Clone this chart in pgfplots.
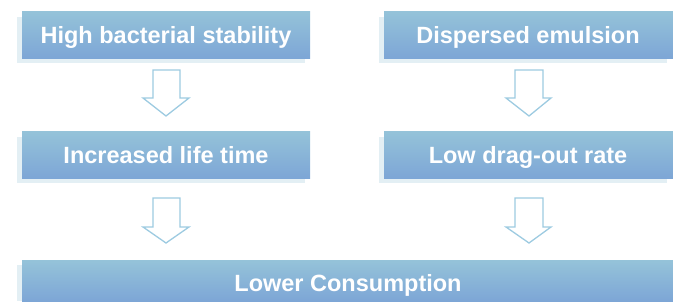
\documentclass[border=0pt]{standalone}
\usepackage{fontspec}
\setmainfont{Liberation Sans}
\usepackage{pgfplots}
\pgfplotsset{compat=1.18}
\definecolor{boxtop}{HTML}{95C3D9}
\definecolor{boxbot}{HTML}{7DA6D6}
\definecolor{shadowc}{HTML}{E3EFF4}
\definecolor{arrowc}{HTML}{9DCBE1}
\begin{document}
\begin{tikzpicture}
\begin{axis}[
  width=673pt, height=301pt, scale only axis,
  xmin=0, xmax=673, ymin=0, ymax=301, y dir=reverse,
  hide axis, clip=true,
]
% shadows
\addplot[draw=none, fill=shadowc] coordinates {(17,17)(305,17)(305,63)(17,63)} --cycle;
\addplot[draw=none, fill=shadowc] coordinates {(379,17)(667,17)(667,63)(379,63)} --cycle;
\addplot[draw=none, fill=shadowc] coordinates {(17,137)(305,137)(305,183)(17,183)} --cycle;
\addplot[draw=none, fill=shadowc] coordinates {(379,137)(667,137)(667,183)(379,183)} --cycle;
\addplot[draw=none, fill=shadowc] coordinates {(17,265)(668,265)(668,301)(17,301)} --cycle;
% boxes
\addplot[draw=none, top color=boxtop, bottom color=boxbot] coordinates {(22,11)(310,11)(310,58)(22,58)} --cycle;
\addplot[draw=none, top color=boxtop, bottom color=boxbot] coordinates {(384,11)(673,11)(673,58)(384,58)} --cycle;
\addplot[draw=none, top color=boxtop, bottom color=boxbot] coordinates {(22,131)(310,131)(310,178)(22,178)} --cycle;
\addplot[draw=none, top color=boxtop, bottom color=boxbot] coordinates {(384,131)(673,131)(673,178)(384,178)} --cycle;
\addplot[draw=none, top color=boxtop, bottom color=boxbot] coordinates {(22,260)(673,260)(673,301)(22,301)} --cycle;
% arrows
\addplot[draw=arrowc, line width=1.3pt, fill=white, line join=miter] coordinates {(153,70)(180,70)(180,98)(189,98)(166,116)(143,98)(153,98)} --cycle;
\addplot[draw=arrowc, line width=1.3pt, fill=white, line join=miter] coordinates {(515,70)(543,70)(543,98)(551,98)(529,116)(506,98)(515,98)} --cycle;
\addplot[draw=arrowc, line width=1.3pt, fill=white, line join=miter] coordinates {(153,198)(180,198)(180,227)(189,227)(166,243)(143,227)(153,227)} --cycle;
\addplot[draw=arrowc, line width=1.3pt, fill=white, line join=miter] coordinates {(515,198)(543,198)(543,227)(551,227)(529,243)(506,227)(515,227)} --cycle;
% texts
\node[text=white, font=\fontsize{23.5}{27}\selectfont\bfseries, anchor=base] at (axis cs:166,43) {High bacterial stability};
\node[text=white, font=\fontsize{23.5}{27}\selectfont\bfseries, anchor=base] at (axis cs:528,43) {Dispersed emulsion};
\node[text=white, font=\fontsize{23.5}{27}\selectfont\bfseries, anchor=base] at (axis cs:166,163) {Increased life time};
\node[text=white, font=\fontsize{23.5}{27}\selectfont\bfseries, anchor=base] at (axis cs:528,163) {Low drag-out rate};
\node[text=white, font=\fontsize{23.5}{27}\selectfont\bfseries, anchor=base] at (axis cs:348,291) {Lower Consumption};
\end{axis}
\pgfresetboundingbox
\useasboundingbox (current axis.south west) rectangle (current axis.north east);
\end{tikzpicture}
\end{document}
